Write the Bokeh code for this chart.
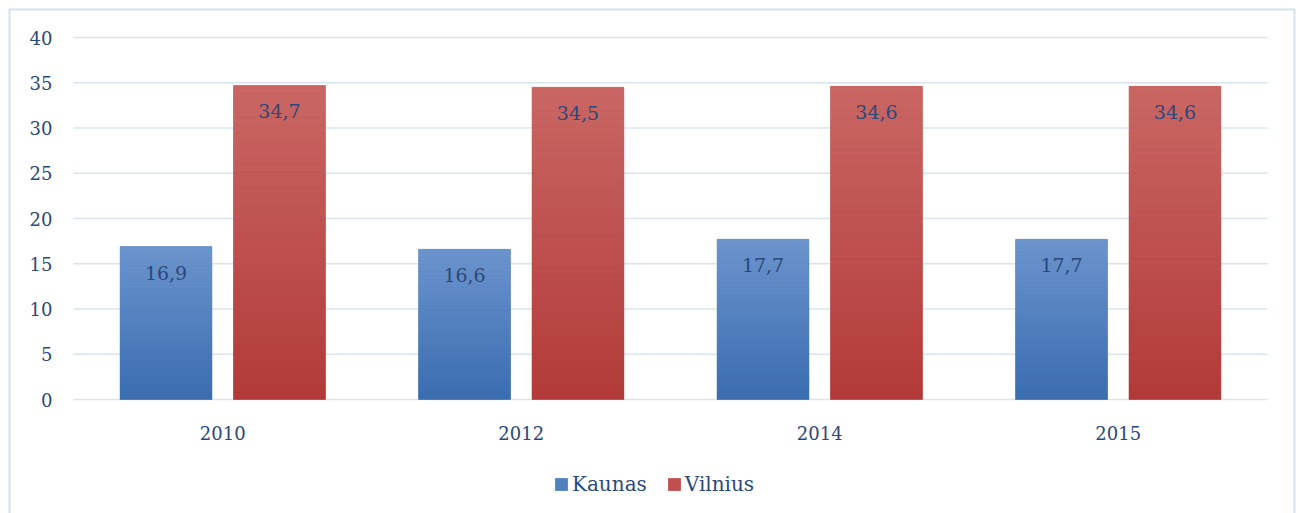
from bokeh.plotting import figure
from bokeh.models import Legend, LegendItem, ColumnDataSource
from bokeh.core.properties import value
from bokeh.embed import file_html
from bokeh.resources import INLINE

years = ["2010", "2012", "2014", "2015"]
kaunas = [16.9, 16.6, 17.7, 17.7]
vilnius = [34.7, 34.5, 34.6, 34.6]
y_ticks = [0, 5, 10, 15, 20, 25, 30, 35, 40]
y_tick_labels = ["0", "5", "10", "15", "20", "25", "30", "35", "40"]

FONT = "DejaVu Serif"
TXT = "#2b4878"
GRID = "#dae4f1"
BORDER = "#d6e1ef"

series = [
    ("Kaunas", kaunas, -0.19, "#4f81bd", (0x3a, 0x6c, 0xb0), (0x6c, 0x95, 0xcd)),
    ("Vilnius", vilnius, 0.19, "#c0504d", (0xb2, 0x3a, 0x38), (0xc9, 0x67, 0x64)),
]
BAR_W = 0.308
N = 40

# frame = the chart's outer box; ranges extended so the value area sits inside it
ncat = len(years)
px_x = 1194 / ncat
px_y = 362 / 40
x_start = -(73 - 8) / px_x
x_end = ncat + (1295 - 1267) / px_x
y_end = 40 + (37 - 8) / px_y
y_start = -(513 - 399) / px_y

p = figure(width=1301, height=513, output_backend="svg", toolbar_location=None,
           x_range=(x_start, x_end), y_range=(y_start, y_end),
           x_axis_location=None, y_axis_location=None,
           min_border_left=8, min_border_right=6, min_border_top=8, min_border_bottom=0)
p.outline_line_color = None
p.background_fill_color = "white"
p.border_fill_color = "white"
p.xgrid.grid_line_color = None
p.ygrid.grid_line_color = None

# outer box: left, right and top sides (bottom is cut by the picture edge)
p.vspan(x=[x_start, x_end], line_color=BORDER, line_width=4)
p.hspan(y=[y_end], line_color=BORDER, line_width=4)

# horizontal gridlines across the category area
p.segment(x0=[0] * len(y_ticks), x1=[ncat] * len(y_ticks), y0=y_ticks, y1=y_ticks,
          line_color=GRID, line_width=1.5)

# y tick labels
p.text(x=[0] * len(y_ticks), y=y_ticks, text=y_tick_labels, text_font=value(FONT),
       text_font_size="18px", text_color=TXT, text_align="right", text_baseline="middle",
       x_offset=-21)

centers = [i + 0.5 for i in range(ncat)]
# category labels
p.text(x=centers, y=[0] * ncat, text=years, text_font=value(FONT), text_font_size="18px",
       text_color=TXT, text_align="center", text_baseline="middle", y_offset=33)

items = []
for name, vals, off, mid, cb, ct in series:
    xs = [c + off for c in centers]
    base = p.vbar(x=xs, top=vals, width=BAR_W, bottom=0, fill_color=mid, line_color=None)
    items.append(LegendItem(label=name, renderers=[base]))
    L, R, B, T, C = [], [], [], [], []
    for x, v in zip(xs, vals):
        for k in range(N):
            t = (k + 0.5) / N
            col = "#%02x%02x%02x" % tuple(int(round(cb[j] + (ct[j] - cb[j]) * t)) for j in range(3))
            L.append(x - BAR_W / 2)
            R.append(x + BAR_W / 2)
            B.append(v * k / N)
            T.append(v * (k + 1) / N)
            C.append(col)
    src = ColumnDataSource(dict(left=L, right=R, bottom=B, top=T, color=C))
    p.quad(left="left", right="right", bottom="bottom", top="top", fill_color="color",
           line_color="color", line_width=0.5, source=src)
    labels = [f"{v:.1f}".replace(".", ",") for v in vals]
    p.text(x=xs, y=vals, text=labels, text_font=value(FONT), text_font_size="19px",
           text_color=TXT, text_align="center", text_baseline="middle", y_offset=26)

legend = Legend(items=items, orientation="horizontal", location=(545, 17),
                label_text_font=FONT, label_text_font_size="20px", label_text_color=TXT,
                glyph_width=16, glyph_height=16, label_standoff=3, spacing=19,
                border_line_color=None, background_fill_alpha=0, margin=0, padding=0)
p.add_layout(legend, "center")

open("out.html", "w").write(file_html(p, INLINE))
